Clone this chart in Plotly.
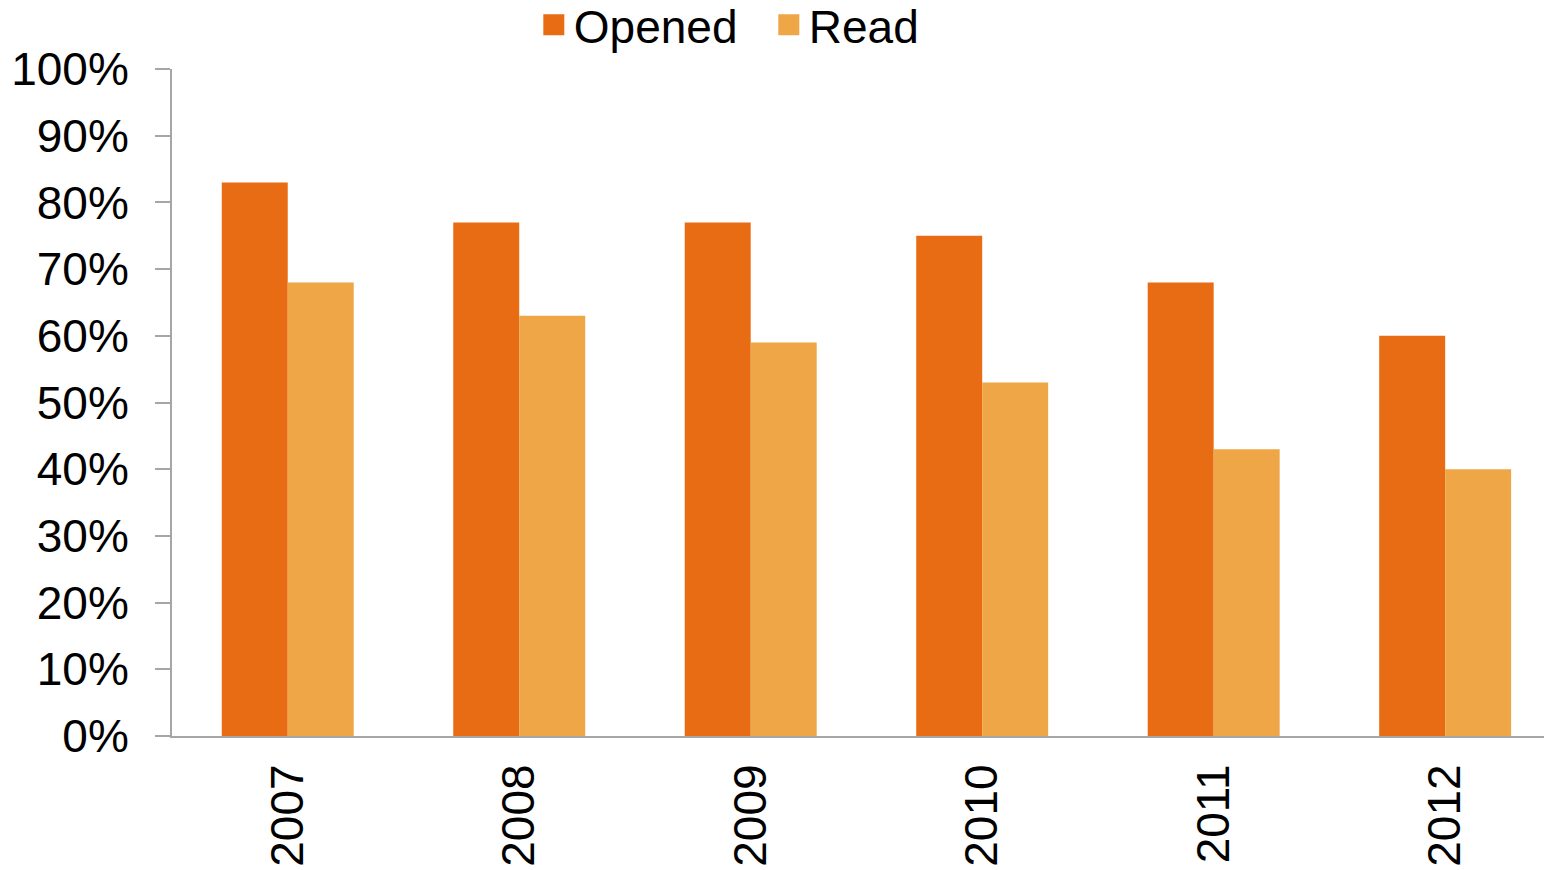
import plotly.graph_objects as go

years = ["2007", "2008", "2009", "2010", "2011", "2012"]
opened = [83, 77, 77, 75, 68, 60]
read = [68, 63, 59, 53, 43, 40]
y_ticks = [0, 10, 20, 30, 40, 50, 60, 70, 80, 90, 100]
y_tick_labels = [f"{v}%" for v in y_ticks]

C_OPEN = "#E86C14"
C_READ = "#EEA646"
AXIS = "#A6A6A6"
FONT = "Liberation Sans, Arial, sans-serif"

fig = go.Figure()
fig.add_trace(go.Bar(name="Opened", x=years, y=opened, marker=dict(color=C_OPEN, line=dict(width=0)), showlegend=False))
fig.add_trace(go.Bar(name="Read", x=years, y=read, marker=dict(color=C_READ, line=dict(width=0)), showlegend=False))
# legend entries with larger square swatches
fig.add_trace(go.Scatter(name="Opened", x=[None], y=[None], mode="markers",
                         marker=dict(symbol="square", size=24, color=C_OPEN,
                                     line=dict(color=C_OPEN, width=5))))
fig.add_trace(go.Scatter(name="Read", x=[None], y=[None], mode="markers",
                         marker=dict(symbol="square", size=24, color=C_READ,
                                     line=dict(color=C_READ, width=5))))

fig.update_layout(
    width=1544, height=870,
    margin=dict(l=172, r=0, t=69, b=134, pad=0, autoexpand=False),
    paper_bgcolor="white", plot_bgcolor="white",
    barmode="group", bargap=0.43, bargroupgap=0,
    font=dict(family=FONT, size=46, color="black"),
    legend=dict(orientation="h", x=0.435, xanchor="center", y=1.121, yanchor="top",
                font=dict(size=46), itemsizing="trace", itemwidth=30,
                entrywidth=190, entrywidthmode="pixels",
                bgcolor="rgba(0,0,0,0)"),
    xaxis=dict(type="category", range=[-0.5, 5.427], showgrid=False,
               showline=True, linecolor=AXIS, linewidth=2, ticks="",
               tickangle=-90, tickfont=dict(size=46), ticklabelstandoff=8,
               fixedrange=True),
    yaxis=dict(range=[0, 100], tickvals=y_ticks, ticktext=y_tick_labels,
               showgrid=False, zeroline=False, showline=True, linecolor=AXIS, linewidth=2,
               ticks="outside", ticklen=15, tickcolor=AXIS, tickwidth=2,
               tickfont=dict(size=46), ticklabelstandoff=17, fixedrange=True),
)

fig.write_html("out.html")
